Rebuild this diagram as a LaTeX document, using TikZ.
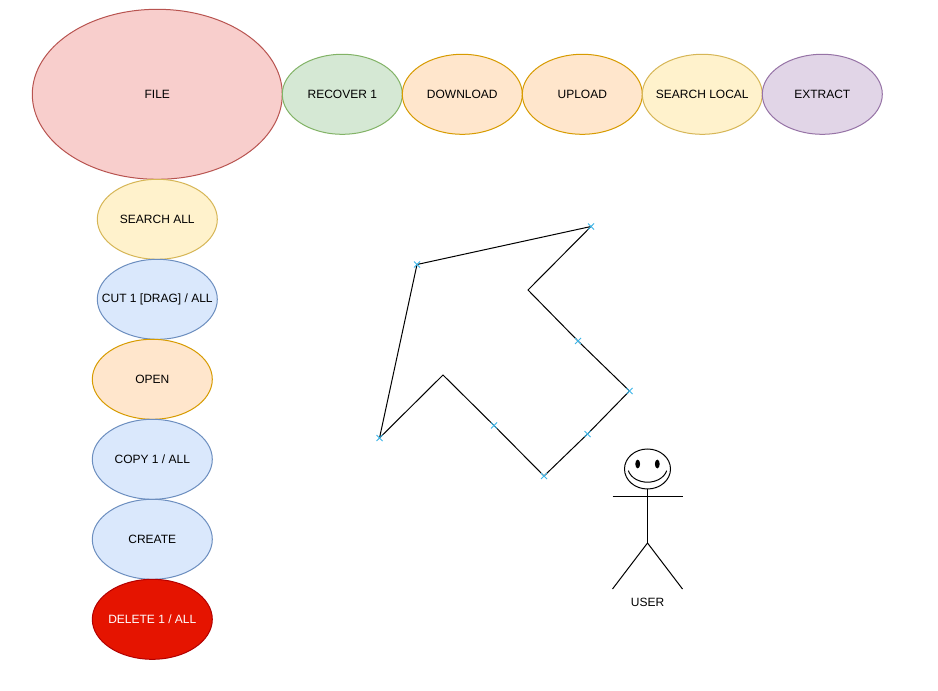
\documentclass[tikz,border=0pt]{standalone}
\usepackage{fontspec}
\setmainfont{Liberation Sans}
\usetikzlibrary{shapes.geometric}
\definecolor{rF}{HTML}{F8CECC}\definecolor{rD}{HTML}{B85450}
\definecolor{gF}{HTML}{D5E8D4}\definecolor{gD}{HTML}{82B366}
\definecolor{oF}{HTML}{FFE6CC}\definecolor{oD}{HTML}{D79B00}
\definecolor{yF}{HTML}{FFF2CC}\definecolor{yD}{HTML}{D6B656}
\definecolor{bF}{HTML}{DAE8FC}\definecolor{bD}{HTML}{6C8EBF}
\definecolor{pF}{HTML}{E1D5E7}\definecolor{pD}{HTML}{9673A6}
\definecolor{dF}{HTML}{E51400}\definecolor{dD}{HTML}{B20000}
\definecolor{mk}{HTML}{3BB5E8}
\newcommand{\ovaltext}[1]{\makebox[0pt][c]{\raisebox{0.3pt}{#1}}}
\tikzset{
  oval/.style={ellipse,draw,line width=0.75pt,inner sep=0pt,minimum width=90pt,minimum height=60pt,font=\fontsize{9pt}{11pt}\selectfont,text=black},
  redo/.style={oval,fill=rF,draw=rD},
  greeno/.style={oval,fill=gF,draw=gD},
  orangeo/.style={oval,fill=oF,draw=oD},
  yellowo/.style={oval,fill=yF,draw=yD},
  blueo/.style={oval,fill=bF,draw=bD},
  purpleo/.style={oval,fill=pF,draw=pD},
  dangero/.style={oval,fill=dF,draw=dD,text=white},
  outline/.style={draw=black,line width=0.75pt,line join=miter},
  figline/.style={draw=black,line width=0.75pt},
  xmark/.pic={\draw[mk,line width=0.75pt] (-3,-3)--(3,3) (-3,3)--(3,-3);}
}
\begin{document}
\begin{tikzpicture}[x=0.75pt,y=-0.75pt]
\useasboundingbox (0,0) rectangle (938,691);
\fill[white] (0,0) rectangle (938,691);
\node[redo,minimum width=187.5pt,minimum height=127.5pt] (file) at (157.3,94.3) {\ovaltext{FILE}};
\node[greeno] (recover) at (342.3,94.3) {\ovaltext{RECOVER 1}};
\node[orangeo] (download) at (462.3,94.3) {\ovaltext{DOWNLOAD}};
\node[orangeo] (upload) at (582.3,94.3) {\ovaltext{UPLOAD}};
\node[yellowo] (searchlocal) at (702.3,94.3) {\ovaltext{SEARCH LOCAL}};
\node[purpleo] (extract) at (822.3,94.3) {\ovaltext{EXTRACT}};
\node[yellowo] (searchall) at (157.3,219.3) {\ovaltext{SEARCH ALL}};
\node[blueo] (cut) at (157.3,299.3) {\ovaltext{CUT 1 [DRAG] / ALL}};
\node[orangeo] (open) at (152.3,379.3) {\ovaltext{OPEN}};
\node[blueo] (copy) at (152.3,459.3) {\ovaltext{COPY 1 / ALL}};
\node[blueo] (create) at (152.3,539.3) {\ovaltext{CREATE}};
\node[dangero] (delete) at (152.3,619.3) {\ovaltext{DELETE 1 / ALL}};
% arrow outline
\coordinate (tip) at (591,226.5);
\coordinate (inA) at (528,290);
\coordinate (midA) at (578,341);
\coordinate (right) at (629.5,391);
\coordinate (midB) at (587.5,434);
\coordinate (bottom) at (544,476);
\coordinate (midC) at (494,425.5);
\coordinate (inB) at (443,375);
\coordinate (left) at (379.5,438);
\coordinate (top) at (417,264.5);
\draw[outline] (tip)--(inA)--(midA)--(right)--(midB)--(bottom)--(midC)--(inB)--(left)--(top)--cycle;
\foreach \p in {tip,midA,right,midB,bottom,midC,left,top} \pic at (\p) {xmark};
% user figure
\draw[figline] (647.5,469) ellipse [x radius=23,y radius=20];
\fill (637.7,464) ellipse [x radius=2.4,y radius=4.4];
\fill (657.3,464) ellipse [x radius=2.4,y radius=4.4];
\draw[figline] (628.3,470.7) .. controls (634,486) and (661,486) .. (666.7,470.7);
\draw[figline] (647.5,489)--(647.5,543);
\draw[figline] (612.5,496)--(682.5,496);
\draw[figline] (612.5,589)--(647.5,543)--(682.5,589);
\node[font=\fontsize{9pt}{11pt}\selectfont,inner sep=0pt] (user) at (647.5,602.5) {USER};
\end{tikzpicture}
\end{document}
